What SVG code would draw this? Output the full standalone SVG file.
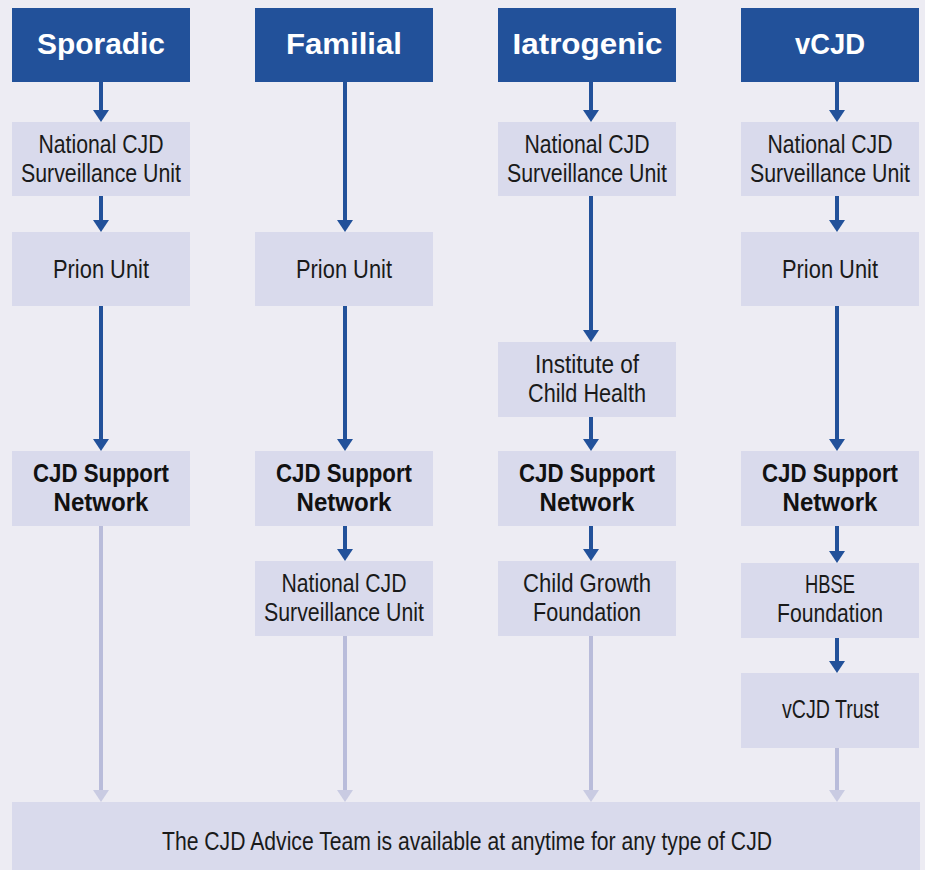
<svg xmlns="http://www.w3.org/2000/svg" width="925" height="870" viewBox="0 0 925 870">
<defs>
<marker id="ab" markerUnits="userSpaceOnUse" markerWidth="12" markerHeight="16" refX="1" refY="8" orient="auto" viewBox="0 0 12 16"><path d="M0,0 L12,8 L0,16 Z" fill="#22519A"/></marker>
<marker id="al" markerUnits="userSpaceOnUse" markerWidth="12" markerHeight="16" refX="1" refY="8" orient="auto" viewBox="0 0 12 16"><path d="M0,0 L12,8 L0,16 Z" fill="#C9CBE2"/></marker>
</defs>
<style>
.hd{fill:#22519A}
.bx{fill:#D9DAEC}
.ht{font-family:"Liberation Sans",Arial,sans-serif;font-weight:bold;font-size:30px;fill:#fff;text-anchor:middle}
.t{font-family:"Liberation Sans",Arial,sans-serif;font-size:26px;fill:#1a1a1a;text-anchor:middle}
.b{font-family:"Liberation Sans",Arial,sans-serif;font-weight:bold;font-size:26px;fill:#111;text-anchor:middle}
.cb{stroke:#22519A;stroke-width:4;fill:none;marker-end:url(#ab)}
.cl{stroke:#B9BCDA;stroke-width:4;fill:none;marker-end:url(#al)}
</style>
<rect width="925" height="870" fill="#EDECF3"/>
<g id="connectors">
<line class="cb" x1="101" y1="82" x2="101" y2="111"/>
<line class="cb" x1="101" y1="196" x2="101" y2="221"/>
<line class="cb" x1="101" y1="306" x2="101" y2="440"/>
<line class="cl" x1="101" y1="526" x2="101" y2="791"/>
<line class="cb" x1="345" y1="82" x2="345" y2="221"/>
<line class="cb" x1="345" y1="306" x2="345" y2="440"/>
<line class="cb" x1="345" y1="526" x2="345" y2="550"/>
<line class="cl" x1="345" y1="636" x2="345" y2="791"/>
<line class="cb" x1="591" y1="82" x2="591" y2="111"/>
<line class="cb" x1="591" y1="196" x2="591" y2="331"/>
<line class="cb" x1="591" y1="417" x2="591" y2="440"/>
<line class="cb" x1="591" y1="526" x2="591" y2="550"/>
<line class="cl" x1="591" y1="636" x2="591" y2="791"/>
<line class="cb" x1="837" y1="82" x2="837" y2="111"/>
<line class="cb" x1="837" y1="196" x2="837" y2="221"/>
<line class="cb" x1="837" y1="306" x2="837" y2="440"/>
<line class="cb" x1="837" y1="526" x2="837" y2="552"/>
<line class="cb" x1="837" y1="638" x2="837" y2="662"/>
<line class="cl" x1="837" y1="748" x2="837" y2="791"/>
</g>
<g id="h-sporadic"><rect class="hd" x="12" y="8" width="178" height="74"/><text class="ht" x="101" y="54" textLength="128" lengthAdjust="spacingAndGlyphs">Sporadic</text></g>
<g id="h-familial"><rect class="hd" x="255" y="8" width="178" height="74"/><text class="ht" x="344" y="54" textLength="116" lengthAdjust="spacingAndGlyphs">Familial</text></g>
<g id="h-iatrogenic"><rect class="hd" x="498" y="8" width="178" height="74"/><text class="ht" x="587.5" y="54" textLength="150" lengthAdjust="spacingAndGlyphs">Iatrogenic</text></g>
<g id="h-vcjd"><rect class="hd" x="741" y="8" width="178" height="74"/><text class="ht" x="830" y="54" textLength="70" lengthAdjust="spacingAndGlyphs">vCJD</text></g>

<g id="s-ncjd"><rect class="bx" x="12" y="122" width="178" height="74"/><text class="t" x="101" y="153" textLength="125" lengthAdjust="spacingAndGlyphs">National CJD</text><text class="t" x="101" y="182" textLength="160" lengthAdjust="spacingAndGlyphs">Surveillance Unit</text></g>
<g id="s-prion"><rect class="bx" x="12" y="232" width="178" height="74"/><text class="t" x="101" y="278" textLength="96" lengthAdjust="spacingAndGlyphs">Prion Unit</text></g>
<g id="s-support"><rect class="bx" x="12" y="451" width="178" height="75"/><text class="b" x="101" y="482" textLength="136" lengthAdjust="spacingAndGlyphs">CJD Support</text><text class="b" x="101" y="511" textLength="95" lengthAdjust="spacingAndGlyphs">Network</text></g>

<g id="f-prion"><rect class="bx" x="255" y="232" width="178" height="74"/><text class="t" x="344" y="278" textLength="96" lengthAdjust="spacingAndGlyphs">Prion Unit</text></g>
<g id="f-support"><rect class="bx" x="255" y="451" width="178" height="75"/><text class="b" x="344" y="482" textLength="136" lengthAdjust="spacingAndGlyphs">CJD Support</text><text class="b" x="344" y="511" textLength="95" lengthAdjust="spacingAndGlyphs">Network</text></g>
<g id="f-ncjd"><rect class="bx" x="255" y="561" width="178" height="75"/><text class="t" x="344" y="592" textLength="125" lengthAdjust="spacingAndGlyphs">National CJD</text><text class="t" x="344" y="621" textLength="160" lengthAdjust="spacingAndGlyphs">Surveillance Unit</text></g>

<g id="i-ncjd"><rect class="bx" x="498" y="122" width="178" height="74"/><text class="t" x="587" y="153" textLength="125" lengthAdjust="spacingAndGlyphs">National CJD</text><text class="t" x="587" y="182" textLength="160" lengthAdjust="spacingAndGlyphs">Surveillance Unit</text></g>
<g id="i-ich"><rect class="bx" x="498" y="342" width="178" height="75"/><text class="t" x="587" y="373" textLength="104" lengthAdjust="spacingAndGlyphs">Institute of</text><text class="t" x="587" y="402" textLength="118" lengthAdjust="spacingAndGlyphs">Child Health</text></g>
<g id="i-support"><rect class="bx" x="498" y="451" width="178" height="75"/><text class="b" x="587" y="482" textLength="136" lengthAdjust="spacingAndGlyphs">CJD Support</text><text class="b" x="587" y="511" textLength="95" lengthAdjust="spacingAndGlyphs">Network</text></g>
<g id="i-cgf"><rect class="bx" x="498" y="561" width="178" height="75"/><text class="t" x="587" y="592" textLength="128" lengthAdjust="spacingAndGlyphs">Child Growth</text><text class="t" x="587" y="621" textLength="108" lengthAdjust="spacingAndGlyphs">Foundation</text></g>

<g id="v-ncjd"><rect class="bx" x="741" y="122" width="178" height="74"/><text class="t" x="830" y="153" textLength="125" lengthAdjust="spacingAndGlyphs">National CJD</text><text class="t" x="830" y="182" textLength="160" lengthAdjust="spacingAndGlyphs">Surveillance Unit</text></g>
<g id="v-prion"><rect class="bx" x="741" y="232" width="178" height="74"/><text class="t" x="830" y="278" textLength="96" lengthAdjust="spacingAndGlyphs">Prion Unit</text></g>
<g id="v-support"><rect class="bx" x="741" y="451" width="178" height="75"/><text class="b" x="830" y="482" textLength="136" lengthAdjust="spacingAndGlyphs">CJD Support</text><text class="b" x="830" y="511" textLength="95" lengthAdjust="spacingAndGlyphs">Network</text></g>
<g id="v-hbse"><rect class="bx" x="741" y="563" width="178" height="75"/><text class="t" x="830" y="593" textLength="50" lengthAdjust="spacingAndGlyphs">HBSE</text><text class="t" x="830" y="622" textLength="106" lengthAdjust="spacingAndGlyphs">Foundation</text></g>
<g id="v-trust"><rect class="bx" x="741" y="673" width="178" height="75"/><text class="t" x="830.5" y="718" textLength="97" lengthAdjust="spacingAndGlyphs">vCJD Trust</text></g>

<g id="advice"><rect class="bx" x="12" y="802" width="908" height="68"/><text class="t" x="467" y="850" textLength="610" lengthAdjust="spacingAndGlyphs">The CJD Advice Team is available at anytime for any type of CJD</text></g>
</svg>
